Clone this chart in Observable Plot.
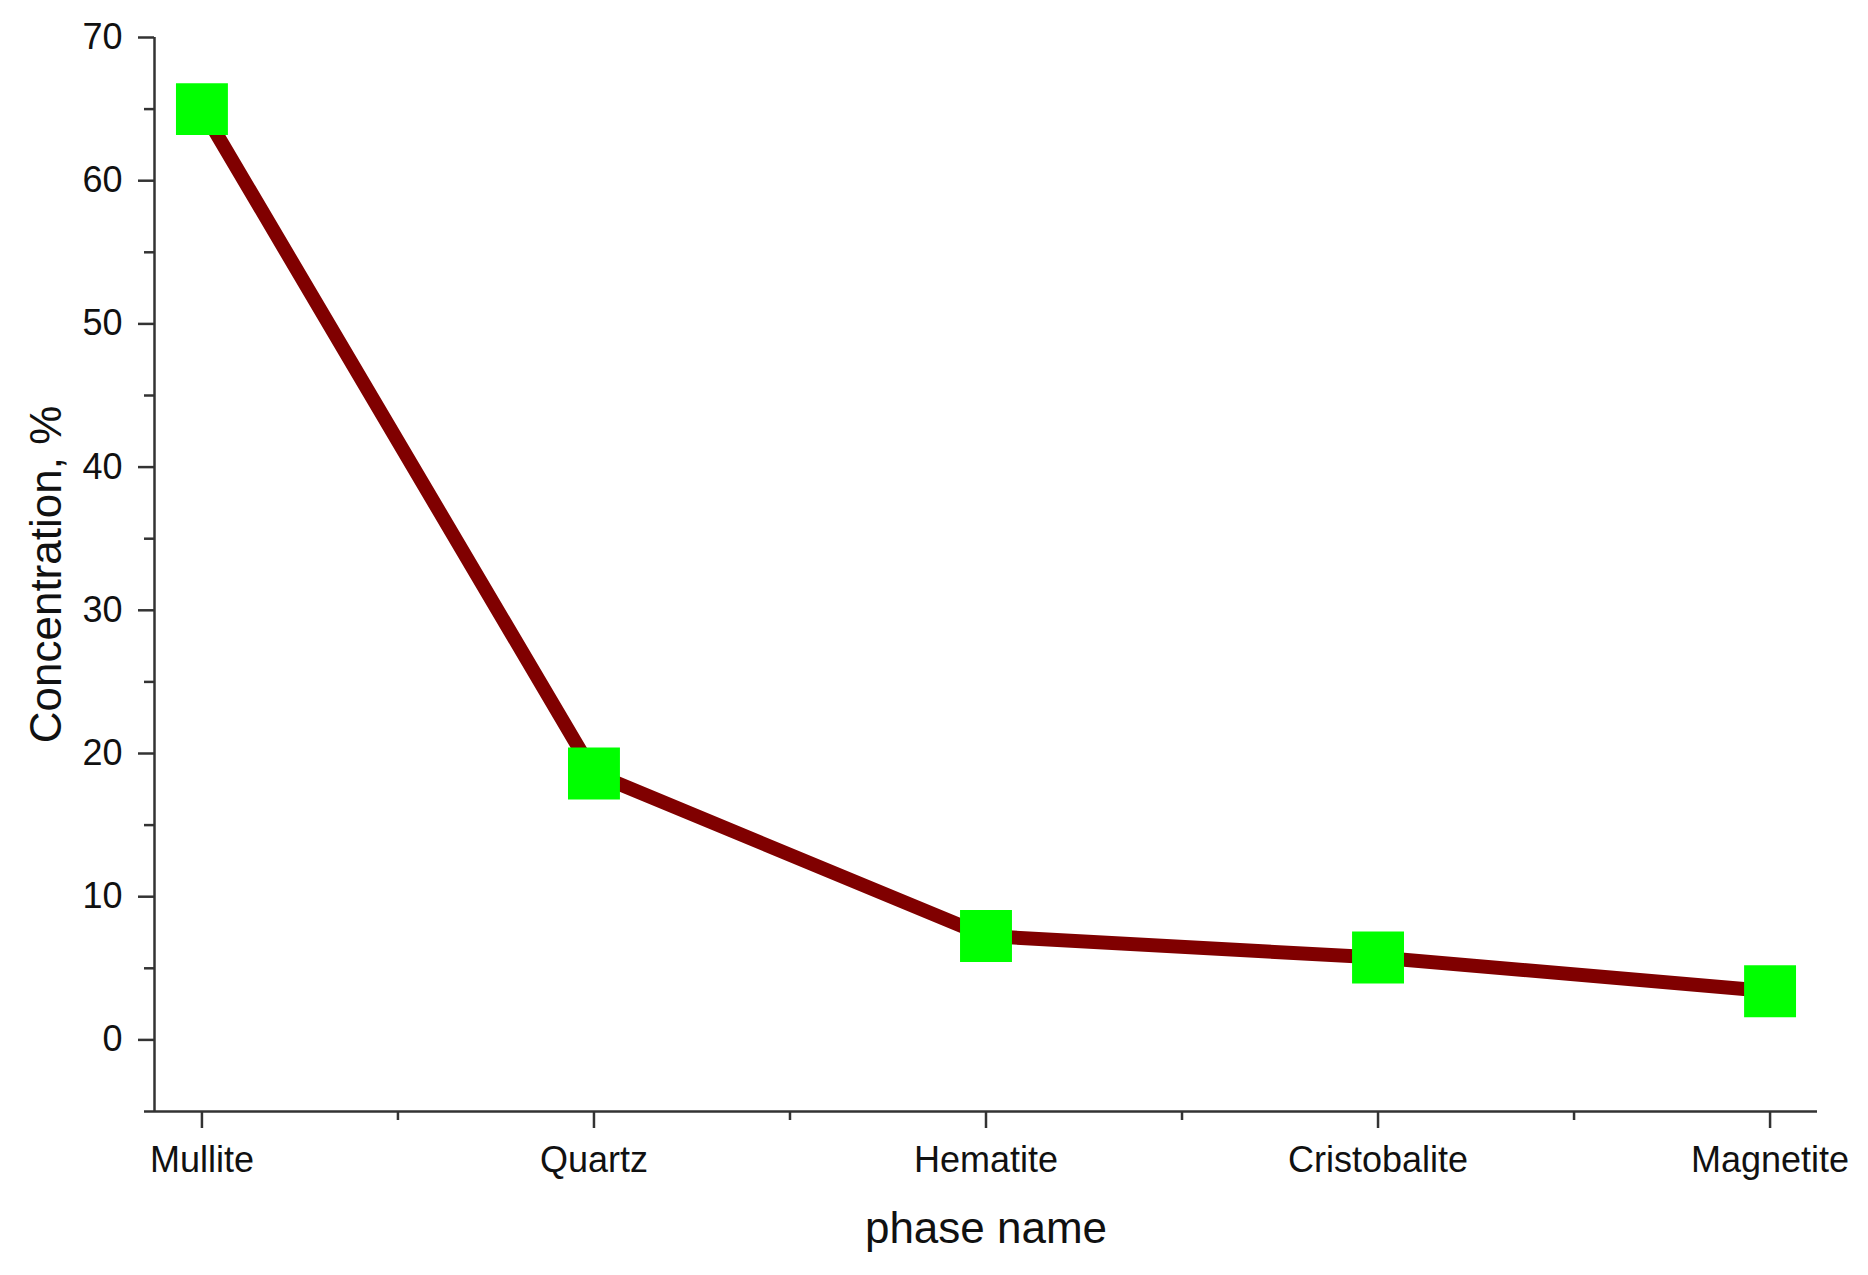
<!DOCTYPE html>
<html>
<head>
<meta charset="utf-8">
<script src="https://cdn.jsdelivr.net/npm/d3@7"></script>
<script src="https://cdn.jsdelivr.net/npm/@observablehq/plot@0.6"></script>
<style>
  html, body { margin: 0; padding: 0; background: #ffffff; }
  #chart svg { display: block; }
</style>
</head>
<body>
<div id="chart"></div>
<script>
const categories = ["Mullite", "Quartz", "Hematite", "Cristobalite", "Magnetite"];
const concentrations = [65.0, 18.6, 7.25, 5.75, 3.4];
const yMajorTicks = [0, 10, 20, 30, 40, 50, 60, 70];
const yMinorTicks = [-5, 5, 15, 25, 35, 45, 55, 65];
const xMajorTicks = [0, 1, 2, 3, 4];
const xMinorTicks = [0.5, 1.5, 2.5, 3.5];
const xDomain = [-0.121, 4.121];
const yDomain = [-5, 70];
const yTitle = "Concentration, %";
const xTitle = "phase name";

const data = categories.map((c, i) => ({index: i, phase: c, value: concentrations[i]}));

const axisColor = "#333333";

const chart = Plot.plot({
  width: 1868,
  height: 1275,
  marginLeft: 154,
  marginRight: 51,
  marginTop: 37,
  marginBottom: 164,
  x: {type: "linear", domain: xDomain},
  y: {type: "linear", domain: yDomain},
  style: {fontFamily: "'Liberation Sans', Arial, sans-serif", background: "#ffffff", color: "#111111"},
  marks: [
    Plot.axisY({ticks: yMajorTicks, tickSize: 16, tickPadding: 16, fontSize: 36, stroke: axisColor, strokeWidth: 2.5, label: null}),
    Plot.axisY({ticks: yMinorTicks, tickSize: 10, tickFormat: () => "", stroke: axisColor, strokeWidth: 2.5, label: null}),
    Plot.axisX({ticks: xMajorTicks, tickFormat: i => categories[i], tickSize: 17, tickPadding: 18, fontSize: 36, stroke: axisColor, strokeWidth: 2.5, label: null}),
    Plot.axisX({ticks: xMinorTicks, tickSize: 9, tickFormat: () => "", stroke: axisColor, strokeWidth: 2.5, label: null}),
    Plot.ruleX([xDomain[0]], {stroke: axisColor, strokeWidth: 2.5}),
    Plot.ruleY([yDomain[0]], {stroke: axisColor, strokeWidth: 2.5}),
    Plot.line(data, {x: "index", y: "value", stroke: "#800000", strokeWidth: 14}),
    Plot.dot(data, {x: "index", y: "value", symbol: "square", r: 29.3, fill: "#00ff00", stroke: "none"}),
    Plot.text([yTitle], {frameAnchor: "left", textAnchor: "middle", rotate: -90, dx: -108, fontSize: 44, fill: "#111111"}),
    Plot.text([xTitle], {frameAnchor: "bottom", textAnchor: "middle", dy: 131, fontSize: 44, fill: "#111111"})
  ]
});

document.getElementById("chart").appendChild(chart);
</script>
</body>
</html>
